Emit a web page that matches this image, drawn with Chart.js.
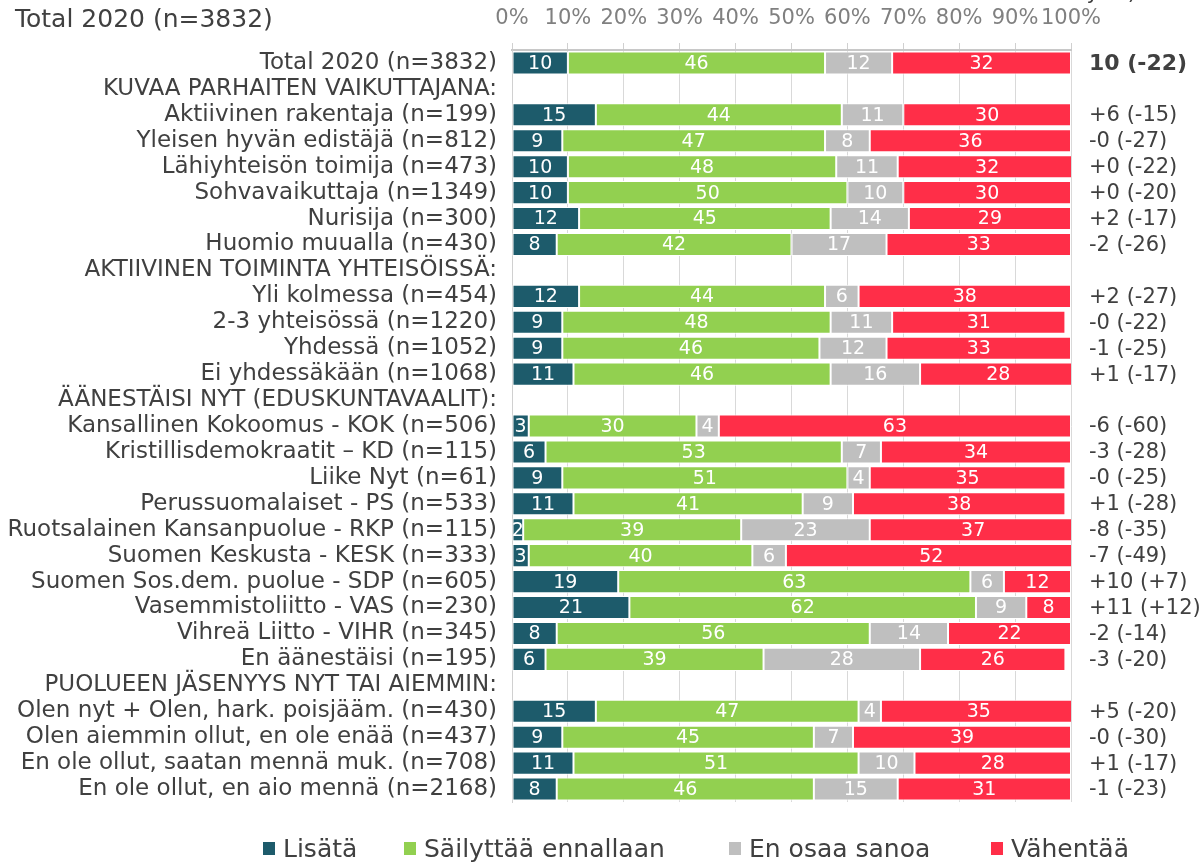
<!DOCTYPE html>
<html>
<head>
<meta charset="utf-8">
<script src="https://cdn.jsdelivr.net/npm/chart.js@4.4.1/dist/chart.umd.min.js"></script>
<style>
  html, body { margin: 0; padding: 0; background: #fff; }
  #wrap { position: relative; width: 1204px; height: 863px; }
</style>
</head>
<body>
<div id="wrap"><canvas id="chart" width="1204" height="863"></canvas></div>
<script>
const categories = [
  'Total 2020 (n=3832)',
  'KUVAA PARHAITEN VAIKUTTAJANA:',
  'Aktiivinen rakentaja (n=199)',
  'Yleisen hyvän edistäjä (n=812)',
  'Lähiyhteisön toimija (n=473)',
  'Sohvavaikuttaja (n=1349)',
  'Nurisija (n=300)',
  'Huomio muualla (n=430)',
  'AKTIIVINEN TOIMINTA YHTEISÖISSÄ:',
  'Yli kolmessa (n=454)',
  '2-3 yhteisössä (n=1220)',
  'Yhdessä (n=1052)',
  'Ei yhdessäkään (n=1068)',
  'ÄÄNESTÄISI NYT (EDUSKUNTAVAALIT):',
  'Kansallinen Kokoomus - KOK (n=506)',
  'Kristillisdemokraatit – KD (n=115)',
  'Liike Nyt (n=61)',
  'Perussuomalaiset - PS (n=533)',
  'Ruotsalainen Kansanpuolue - RKP (n=115)',
  'Suomen Keskusta - KESK (n=333)',
  'Suomen Sos.dem. puolue - SDP (n=605)',
  'Vasemmistoliitto - VAS (n=230)',
  'Vihreä Liitto - VIHR (n=345)',
  'En äänestäisi (n=195)',
  'PUOLUEEN JÄSENYYS NYT TAI AIEMMIN:',
  'Olen nyt + Olen, hark. poisjääm. (n=430)',
  'Olen aiemmin ollut, en ole enää (n=437)',
  'En ole ollut, saatan mennä muk. (n=708)',
  'En ole ollut, en aio mennä (n=2168)'
];

const lisata    = [10, null, 15, 9, 10, 10, 12, 8, null, 12, 9, 9, 11, null, 3, 6, 9, 11, 2, 3, 19, 21, 8, 6, null, 15, 9, 11, 8];
const sailyttaa = [46, null, 44, 47, 48, 50, 45, 42, null, 44, 48, 46, 46, null, 30, 53, 51, 41, 39, 40, 63, 62, 56, 39, null, 47, 45, 51, 46];
const eiOsaa    = [12, null, 11, 8, 11, 10, 14, 17, null, 6, 11, 12, 16, null, 4, 7, 4, 9, 23, 6, 6, 9, 14, 28, null, 4, 7, 10, 15];
const vahentaa  = [32, null, 30, 36, 32, 30, 29, 33, null, 38, 31, 33, 28, null, 63, 34, 35, 38, 37, 52, 12, 8, 22, 26, null, 35, 39, 28, 31];

const netLabels = [
  '10 (-22)', '', '+6 (-15)', '-0 (-27)', '+0 (-22)', '+0 (-20)', '+2 (-17)', '-2 (-26)',
  '', '+2 (-27)', '-0 (-22)', '-1 (-25)', '+1 (-17)',
  '', '-6 (-60)', '-3 (-28)', '-0 (-25)', '+1 (-28)', '-8 (-35)', '-7 (-49)', '+10 (+7)', '+11 (+12)', '-2 (-14)', '-3 (-20)',
  '', '+5 (-20)', '-0 (-30)', '+1 (-17)', '-1 (-23)'
];

const seriesNames = ['Lisätä', 'Säilyttää ennallaan', 'En osaa sanoa', 'Vähentää'];
const xTicks = [0, 10, 20, 30, 40, 50, 60, 70, 80, 90, 100];

const colors = ['#1d5b6b', '#92d050', '#bfbfbf', '#ff2e48'];
const FONT = '"DejaVu Sans", Verdana, sans-serif';
const TEXT = '#404040';

// value labels inside the bars
const barLabels = {
  id: 'barLabels',
  afterDatasetsDraw(chart) {
    const ctx = chart.ctx;
    ctx.save();
    ctx.font = '19px ' + FONT;
    ctx.fillStyle = '#fff';
    ctx.textAlign = 'center';
    ctx.textBaseline = 'middle';
    chart.data.datasets.forEach((ds, di) => {
      chart.getDatasetMeta(di).data.forEach((bar, i) => {
        const v = ds.data[i];
        if (v == null) return;
        ctx.fillText(String(v), (bar.x + bar.base) / 2, bar.y + 1);
      });
    });
    ctx.restore();
  }
};

// net numbers on the right, title, legend
const extras = {
  id: 'extras',
  afterDraw(chart) {
    const ctx = chart.ctx;
    const y = chart.scales.y;
    const right = chart.chartArea.right;
    ctx.save();
    ctx.fillStyle = TEXT;
    ctx.textBaseline = 'middle';
    ctx.textAlign = 'left';
    netLabels.forEach((t, i) => {
      if (!t) return;
      ctx.font = i === 0 ? 'bold 22px ' + FONT : '21px ' + FONT;
      ctx.fillText(t, right + 18, y.getPixelForValue(i) + 1);
    });

    ctx.font = '25px ' + FONT;
    ctx.fillText('Total 2020 (n=3832)', 15, 20);

    // clipped header text at the top right
    ctx.font = '21px ' + FONT;
    ctx.textAlign = 'right';
    ctx.textBaseline = 'alphabetic';
    ctx.fillText('yksi)', 1136, -1);

    // legend
    const legendX = [263, 404, 729, 991];
    ctx.textAlign = 'left';
    ctx.font = '25px ' + FONT;
    seriesNames.forEach((name, i) => {
      ctx.fillStyle = colors[i];
      ctx.fillRect(legendX[i], 842, 12, 13);
      ctx.fillStyle = TEXT;
      ctx.fillText(name, legendX[i] + 20, 857);
    });
    ctx.restore();
  }
};

const makeSet = (label, data, i) => ({
  label, data,
  backgroundColor: colors[i],
  borderColor: '#ffffff',
  borderWidth: 1,
  borderSkipped: false,
  barPercentage: 0.89,
  categoryPercentage: 1
});

new Chart(document.getElementById('chart'), {
  type: 'bar',
  data: {
    labels: categories,
    datasets: [
      makeSet(seriesNames[0], lisata, 0),
      makeSet(seriesNames[1], sailyttaa, 1),
      makeSet(seriesNames[2], eiOsaa, 2),
      makeSet(seriesNames[3], vahentaa, 3)
    ]
  },
  options: {
    indexAxis: 'y',
    responsive: false,
    animation: false,
    layout: { padding: { left: 0, right: 133, top: 0, bottom: 61 } },
    plugins: {
      legend: { display: false },
      tooltip: { enabled: false }
    },
    scales: {
      x: {
        position: 'top',
        stacked: true,
        min: 0,
        max: 100,
        afterBuildTicks: s => { s.ticks = xTicks.map(v => ({ value: v })); },
        afterFit: s => { s.height = 50; },
        ticks: {
          callback: v => v + '%',
          color: '#808080',
          font: { family: FONT, size: 21 },
          padding: 12,
          maxRotation: 0,
          autoSkip: false
        },
        grid: { color: '#d9d9d9', tickLength: 7, tickColor: '#d0d0d0' },
        border: { color: '#c8c8c8', width: 2 }
      },
      y: {
        stacked: true,
        afterFit: s => { s.width = 512; },
        ticks: {
          color: TEXT,
          font: { family: FONT, size: 23 },
          padding: 15,
          autoSkip: false
        },
        grid: { display: false, drawTicks: false },
        border: { color: '#d0d0d0' }
      }
    }
  },
  plugins: [barLabels, extras]
});
</script>
</body>
</html>
